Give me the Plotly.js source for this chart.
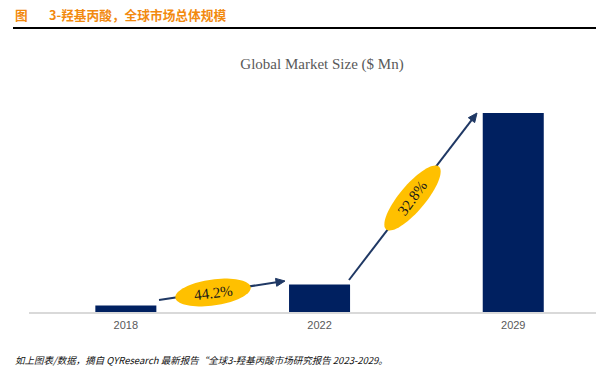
<!DOCTYPE html>
<html>
<head>
<meta charset="utf-8">
<script src="https://cdn.plot.ly/plotly-3.0.1.min.js"></script>
<style>html,body{margin:0;padding:0;background:#fff;}#chart{width:596px;height:380px;}</style>
</head>
<body>
<div id="chart"></div>
<script>
const years = ['2018', '2022', '2029'];
const marketSize = [6.5, 27.5, 199];
const cagrLabels = ['44.2%', '32.8%'];
const headerLabel = '图';
const headerTitle = '3-羟基丙酸，全球市场总体规模';
const chartTitle = 'Global Market Size ($ Mn)';
const sourceNote = '如上图表/数据，摘自 QYResearch 最新报告“全球3-羟基丙酸市场研究报告 2023-2029。';

const W = 596, H = 380;
const M = {l: 29, r: 0, t: 112, b: 68};
const pw = W - M.l - M.r, ph = H - M.t - M.b;
const px2p = px => (px - M.l) / pw;
const py2p = py => (H - M.b - py) / ph;

const navy = '#002060', arrowCol = '#1F3864', gold = '#FFC000';

function ellipsePath(cx, cy, a, b, deg) {
  const th = deg * Math.PI / 180;
  let d = '';
  for (let i = 0; i <= 72; i++) {
    const t = i / 72 * 2 * Math.PI;
    const dx = a * Math.cos(t), dy = b * Math.sin(t);
    const X = cx + dx * Math.cos(th) - dy * Math.sin(th);
    const Yup = dx * Math.sin(th) + dy * Math.cos(th);
    const Y = cy - Yup;
    d += (i === 0 ? 'M ' : ' L ') + px2p(X).toFixed(5) + ' ' + py2p(Y).toFixed(5);
  }
  return d + ' Z';
}
function arrowShapes(x0, y0, x1, y1) {
  const ang = Math.atan2(y1 - y0, x1 - x0);
  const L = 9, Wd = 4;
  const bx = x1 - L * Math.cos(ang), by = y1 - L * Math.sin(ang);
  const nx = -Math.sin(ang), ny = Math.cos(ang);
  const p1 = [bx + Wd * nx, by + Wd * ny], p2 = [bx - Wd * nx, by - Wd * ny];
  return [
    {type: 'line', xref: 'paper', yref: 'paper', x0: px2p(x0), y0: py2p(y0), x1: px2p(bx + 2*Math.cos(ang)), y1: py2p(by + 2*Math.sin(ang)),
     line: {color: arrowCol, width: 2}},
    {type: 'path', xref: 'paper', yref: 'paper',
     path: `M ${px2p(x1)} ${py2p(y1)} L ${px2p(p1[0])} ${py2p(p1[1])} L ${px2p(p2[0])} ${py2p(p2[1])} Z`,
     fillcolor: arrowCol, line: {color: arrowCol, width: 1}}
  ];
}

const shapes = [
  ...arrowShapes(159, 300, 285, 281),
  ...arrowShapes(349, 280, 477, 113),
  {type: 'path', xref: 'paper', yref: 'paper', path: ellipsePath(213, 292.5, 38, 13, 8), fillcolor: gold, line: {width: 0}},
  {type: 'path', xref: 'paper', yref: 'paper', path: ellipsePath(412.5, 198, 41, 13, 50), fillcolor: gold, line: {width: 0}},
  {type: 'line', xref: 'paper', yref: 'paper', x0: px2p(13), x1: px2p(596), y0: py2p(28), y1: py2p(28), line: {color: '#000', width: 2}}
];

const annotations = [
  {xref: 'paper', yref: 'paper', x: px2p(213), y: py2p(292.5), xanchor: 'center', yanchor: 'middle', text: cagrLabels[0], showarrow: false, textangle: -7,
   font: {family: 'Liberation Serif', size: 15, color: '#1a1a1a'}},
  {xref: 'paper', yref: 'paper', x: px2p(412.5), y: py2p(198), xanchor: 'center', yanchor: 'middle', text: cagrLabels[1], showarrow: false, textangle: -54,
   font: {family: 'Liberation Serif', size: 15, color: '#1a1a1a'}},
  {xref: 'paper', yref: 'paper', x: px2p(13), y: py2p(15), xanchor: 'left', yanchor: 'middle', text: '<b>' + headerLabel + '</b>', showarrow: false,
   font: {family: 'Noto Sans CJK SC', size: 12.7, color: '#F28A0F'}},
  {xref: 'paper', yref: 'paper', x: px2p(47), y: py2p(15), xanchor: 'left', yanchor: 'middle', text: '<b>' + headerTitle + '</b>', showarrow: false,
   font: {family: 'Noto Sans CJK SC', size: 12.7, color: '#F28A0F'}},
  {xref: 'paper', yref: 'paper', x: px2p(13), y: py2p(360), xanchor: 'left', yanchor: 'middle', text: '<i>' + sourceNote + '</i>', showarrow: false,
   font: {family: 'Noto Sans CJK SC', size: 9.5, color: '#111'}}
];

const data = [{
  type: 'bar', x: [0, 1, 2], y: marketSize, width: 0.315,
  marker: {color: navy, line: {width: 0}}, hoverinfo: 'skip'
}];

const layout = {
  width: W, height: H, margin: M,
  paper_bgcolor: '#fff', plot_bgcolor: '#fff', showlegend: false,
  title: {text: chartTitle, x: 322 / W, xref: 'container', xanchor: 'center', y: 1 - 64 / H, yref: 'container', yanchor: 'middle',
          font: {family: 'Liberation Serif', size: 15, color: '#595959'}},
  xaxis: {range: [-0.5, -0.5 + pw / 193.7], tickvals: [0, 1, 2], ticktext: years, showgrid: false, zeroline: false,
          showline: true, linecolor: '#D9D9D9', linewidth: 1.5, ticks: '', ticklabelstandoff: 2,
          tickfont: {family: 'Liberation Sans', size: 11, color: '#595959'}},
  yaxis: {range: [0, 200], visible: false, fixedrange: true},
  shapes: shapes, annotations: annotations
};

Plotly.newPlot('chart', data, layout, {staticPlot: true, displayModeBar: false});
</script>
</body>
</html>
